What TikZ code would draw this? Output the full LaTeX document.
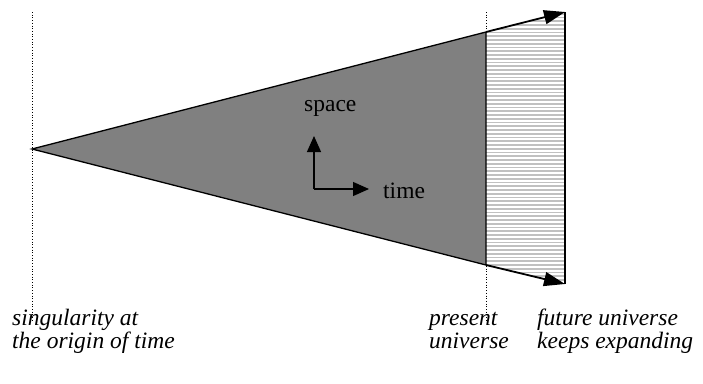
\documentclass[tikz,border=0pt]{standalone}
\usepackage{fontspec}
\setmainfont{Liberation Serif}
\usetikzlibrary{arrows.meta}
\definecolor{conegray}{HTML}{808080}
\definecolor{stripegray}{HTML}{C0C0C0}
\tikzset{
  guide/.style={dotted, line width=0.7pt},
  edge/.style={line width=1.3pt},
  bigarrow/.style={line width=1.8pt, -{Triangle[length=21pt,width=14pt]}},
  axisarrow/.style={line width=1.2pt, -{Triangle[length=16pt,width=14pt]}},
  caption/.style={font=\itshape\fontsize{23.5}{23}\selectfont, anchor=base west, inner sep=0pt, align=left},
  axislabel/.style={font=\fontsize{23.5}{24}\selectfont, inner sep=0pt}
}
\begin{document}
\begin{tikzpicture}[x=1pt,y=-1pt]
\useasboundingbox (0,0) rectangle (703,383);
% coordinates
\coordinate (apex) at (32,149);
\coordinate (pt) at (486,32);
\coordinate (pb) at (486,265);
\coordinate (ft) at (565,12);
\coordinate (fb) at (565,284);
% guides
\draw[guide] (32,12) coordinate (g1t) -- (32,321) coordinate (g1b);
\draw[guide] (486,12) coordinate (g2t) -- (486,321) coordinate (g2b);
% future band
\fill[white] (pt) -- (ft) -- (fb) -- (pb) -- cycle;
\begin{scope}
\clip (pt) -- (ft) -- (fb) -- (pb) -- cycle;
\foreach \y in {10,13.75,...,290} {
  \draw[stripegray, line width=1.6pt] (480,\y) -- (570,\y);
}
\end{scope}
\draw[edge] (ft) -- (fb);
% cone
\filldraw[fill=conegray, draw=black, edge] (apex) -- (pt) -- (pb) -- cycle;
% expansion arrows
\draw[bigarrow] (pt) -- (ft);
\draw[bigarrow] (pb) -- (fb);
% axes
\coordinate (origin) at (314,189);
\coordinate (up) at (314,136);
\coordinate (right) at (369,189);
\draw[axisarrow] (origin) -- (up);
\draw[axisarrow] (origin) -- (right);
\node[axislabel, anchor=base west] (space) at (304,111) {space};
\node[axislabel, anchor=base west] (time) at (383,198) {time};
% captions
\node[caption] (sing) at (12,348) {singularity at\\the origin of time};
\node[caption] (pres) at (429,348) {present\\universe};
\node[caption] (fut) at (537,348) {future universe\\keeps expanding};
\end{tikzpicture}
\end{document}
